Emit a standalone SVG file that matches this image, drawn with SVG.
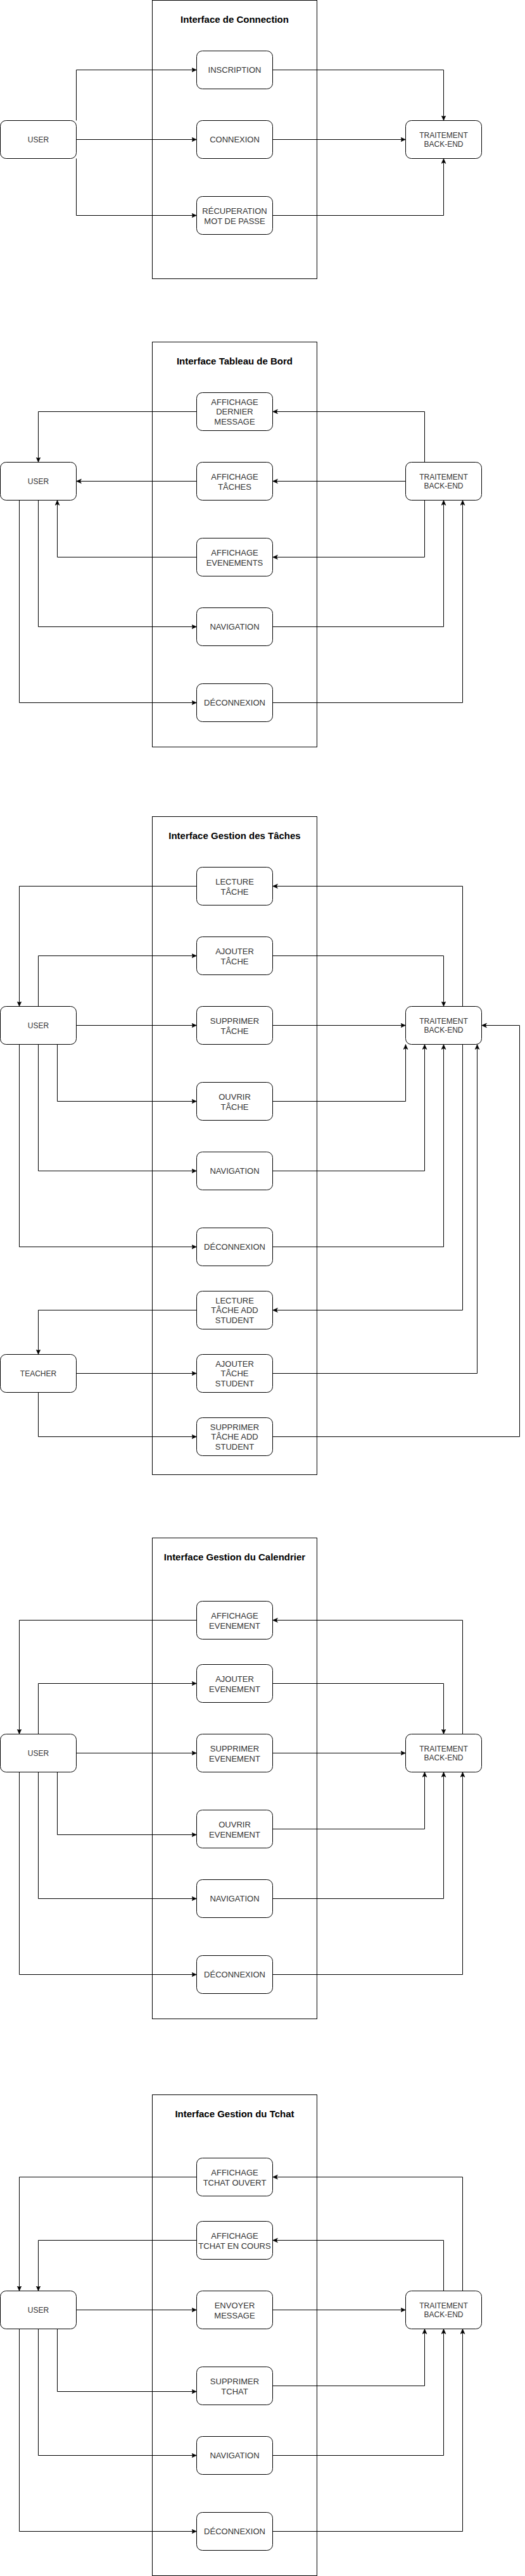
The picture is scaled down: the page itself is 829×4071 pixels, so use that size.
<svg xmlns="http://www.w3.org/2000/svg" width="829" height="4071" viewBox="0 0 829 4071">
<style>
.frame{fill:none;stroke:#000;stroke-width:1}
.node{fill:#fff;stroke:#000;stroke-width:1}
.c path{fill:none;stroke:#000;stroke-width:1;marker-end:url(#arr)}
.title{font-family:"Liberation Sans",Arial,Helvetica,sans-serif;font-size:15px;font-weight:bold;fill:#000;text-anchor:middle}
.t{font-family:"Liberation Sans",Arial,Helvetica,sans-serif;font-size:13px;fill:#333;text-anchor:middle}
.s{font-family:"Liberation Sans",Arial,Helvetica,sans-serif;font-size:12px;fill:#333;text-anchor:middle}
</style>
<defs>
<marker id="arr" markerUnits="userSpaceOnUse" markerWidth="10" markerHeight="10" refX="8" refY="4" orient="auto">
<path d="M0,0.5 L8,4 L0,7.5 L2,4 Z" fill="#000" stroke="#000" stroke-width="0.5"/>
</marker>
</defs>
<rect width="829" height="4071" fill="#fff"/>
<g transform="translate(0.5,0.5)">

<!-- containers -->
<g id="frame-connection"><rect class="frame" x="240" y="0" width="260" height="440"/><text class="title" x="370" y="35">Interface de Connection</text></g>
<g id="frame-tableau"><rect class="frame" x="240" y="540" width="260" height="640"/><text class="title" x="370" y="575">Interface Tableau de Bord</text></g>
<g id="frame-taches"><rect class="frame" x="240" y="1290" width="260" height="1040"/><text class="title" x="370" y="1325">Interface Gestion des Tâches</text></g>
<g id="frame-calendrier"><rect class="frame" x="240" y="2430" width="260" height="760"/><text class="title" x="370" y="2465">Interface Gestion du Calendrier</text></g>
<g id="frame-tchat"><rect class="frame" x="240" y="3310" width="260" height="760"/><text class="title" x="370" y="3345">Interface Gestion du Tchat</text></g>

<g id="connectors" class="c">
<!-- section 1 -->
<path d="M120,190 V110 H310"/>
<path d="M120,220 H310"/>
<path d="M120,250 V340 H310"/>
<path d="M430,110 H700 V190"/>
<path d="M430,220 H640"/>
<path d="M430,340 H700 V250"/>
<!-- section 2 -->
<path d="M310,650 H60 V730"/>
<path d="M670,730 V650 H430"/>
<path d="M310,760 H120"/>
<path d="M640,760 H430"/>
<path d="M310,880 H90 V790"/>
<path d="M670,790 V880 H430"/>
<path d="M60,790 V990 H310"/>
<path d="M430,990 H700 V790"/>
<path d="M30,790 V1110 H310"/>
<path d="M430,1110 H730 V790"/>
<!-- section 3 -->
<path d="M310,1400 H30 V1590"/>
<path d="M730,1590 V1400 H430"/>
<path d="M60,1590 V1510 H310"/>
<path d="M430,1510 H700 V1590"/>
<path d="M120,1620 H310"/>
<path d="M430,1620 H640"/>
<path d="M90,1650 V1740 H310"/>
<path d="M430,1740 H640 V1650"/>
<path d="M60,1650 V1850 H310"/>
<path d="M430,1850 H670 V1650"/>
<path d="M30,1650 V1970 H310"/>
<path d="M430,1970 H700 V1650"/>
<path d="M730,1650 V2070 H430"/>
<path d="M310,2070 H60 V2140"/>
<path d="M120,2170 H310"/>
<path d="M430,2170 H753 V1650"/>
<path d="M60,2200 V2270 H310"/>
<path d="M430,2270 H820 V1620 H760"/>
<!-- section 4 -->
<path d="M310,2560 H30 V2740"/>
<path d="M730,2740 V2560 H430"/>
<path d="M60,2740 V2660 H310"/>
<path d="M430,2660 H700 V2740"/>
<path d="M120,2770 H310"/>
<path d="M430,2770 H640"/>
<path d="M90,2800 V2899 H310"/>
<path d="M430,2890 H670 V2800"/>
<path d="M60,2800 V3000 H310"/>
<path d="M430,3000 H700 V2800"/>
<path d="M30,2800 V3120 H310"/>
<path d="M430,3120 H730 V2800"/>
<!-- section 5 -->
<path d="M310,3440 H30 V3620"/>
<path d="M730,3620 V3440 H430"/>
<path d="M310,3540 H60 V3620"/>
<path d="M700,3620 V3540 H430"/>
<path d="M120,3650 H310"/>
<path d="M430,3650 H640"/>
<path d="M90,3680 V3779 H310"/>
<path d="M430,3770 H670 V3680"/>
<path d="M60,3680 V3880 H310"/>
<path d="M430,3880 H700 V3680"/>
<path d="M30,3680 V4000 H310"/>
<path d="M430,4000 H730 V3680"/>
</g>

<!-- section 1 nodes -->
<g id="s1-user"><rect class="node" x="0" y="190" width="120" height="60" rx="9"/><text class="s" x="60" y="224">USER</text></g>
<g id="s1-inscription"><rect class="node" x="310" y="80" width="120" height="60" rx="9"/><text class="t" x="370" y="114.5">INSCRIPTION</text></g>
<g id="s1-connexion"><rect class="node" x="310" y="190" width="120" height="60" rx="9"/><text class="t" x="370" y="224.5">CONNEXION</text></g>
<g id="s1-recuperation"><rect class="node" x="310" y="310" width="120" height="60" rx="9"/><text class="t"><tspan x="370" y="337">RÉCUPERATION</tspan><tspan x="370" y="353">MOT DE PASSE</tspan></text></g>
<g id="s1-backend"><rect class="node" x="640" y="190" width="120" height="60" rx="9"/><text class="s"><tspan x="700" y="217">TRAITEMENT</tspan><tspan x="700" y="231.5">BACK-END</tspan></text></g>

<!-- section 2 nodes -->
<g id="s2-user"><rect class="node" x="0" y="730" width="120" height="60" rx="9"/><text class="s" x="60" y="764">USER</text></g>
<g id="s2-aff-message"><rect class="node" x="310" y="620" width="120" height="60" rx="9"/><text class="t"><tspan x="370" y="639">AFFICHAGE</tspan><tspan x="370" y="654.5">DERNIER</tspan><tspan x="370" y="670">MESSAGE</tspan></text></g>
<g id="s2-aff-taches"><rect class="node" x="310" y="730" width="120" height="60" rx="9"/><text class="t"><tspan x="370" y="757">AFFICHAGE</tspan><tspan x="370" y="773">TÂCHES</tspan></text></g>
<g id="s2-aff-evenements"><rect class="node" x="310" y="850" width="120" height="60" rx="9"/><text class="t"><tspan x="370" y="877">AFFICHAGE</tspan><tspan x="370" y="893">EVENEMENTS</tspan></text></g>
<g id="s2-navigation"><rect class="node" x="310" y="960" width="120" height="60" rx="9"/><text class="t" x="370" y="994.5">NAVIGATION</text></g>
<g id="s2-deconnexion"><rect class="node" x="310" y="1080" width="120" height="60" rx="9"/><text class="t" x="370" y="1114.5">DÉCONNEXION</text></g>
<g id="s2-backend"><rect class="node" x="640" y="730" width="120" height="60" rx="9"/><text class="s"><tspan x="700" y="757">TRAITEMENT</tspan><tspan x="700" y="771.5">BACK-END</tspan></text></g>

<!-- section 3 nodes -->
<g id="s3-lecture"><rect class="node" x="310" y="1370" width="120" height="60" rx="9"/><text class="t"><tspan x="370" y="1397">LECTURE</tspan><tspan x="370" y="1413">TÂCHE</tspan></text></g>
<g id="s3-ajouter"><rect class="node" x="310" y="1480" width="120" height="60" rx="9"/><text class="t"><tspan x="370" y="1507">AJOUTER</tspan><tspan x="370" y="1523">TÂCHE</tspan></text></g>
<g id="s3-user"><rect class="node" x="0" y="1590" width="120" height="60" rx="9"/><text class="s" x="60" y="1624">USER</text></g>
<g id="s3-supprimer"><rect class="node" x="310" y="1590" width="120" height="60" rx="9"/><text class="t"><tspan x="370" y="1617">SUPPRIMER</tspan><tspan x="370" y="1633">TÂCHE</tspan></text></g>
<g id="s3-backend"><rect class="node" x="640" y="1590" width="120" height="60" rx="9"/><text class="s"><tspan x="700" y="1617">TRAITEMENT</tspan><tspan x="700" y="1631.5">BACK-END</tspan></text></g>
<g id="s3-ouvrir"><rect class="node" x="310" y="1710" width="120" height="60" rx="9"/><text class="t"><tspan x="370" y="1737">OUVRIR</tspan><tspan x="370" y="1753">TÂCHE</tspan></text></g>
<g id="s3-navigation"><rect class="node" x="310" y="1820" width="120" height="60" rx="9"/><text class="t" x="370" y="1854.5">NAVIGATION</text></g>
<g id="s3-deconnexion"><rect class="node" x="310" y="1940" width="120" height="60" rx="9"/><text class="t" x="370" y="1974.5">DÉCONNEXION</text></g>
<g id="s3-lecture-add"><rect class="node" x="310" y="2040" width="120" height="60" rx="9"/><text class="t"><tspan x="370" y="2059">LECTURE</tspan><tspan x="370" y="2074.5">TÂCHE ADD</tspan><tspan x="370" y="2090">STUDENT</tspan></text></g>
<g id="s3-teacher"><rect class="node" x="0" y="2140" width="120" height="60" rx="9"/><text class="s" x="60" y="2174">TEACHER</text></g>
<g id="s3-ajouter-student"><rect class="node" x="310" y="2140" width="120" height="60" rx="9"/><text class="t"><tspan x="370" y="2159">AJOUTER</tspan><tspan x="370" y="2174.5">TÂCHE</tspan><tspan x="370" y="2190">STUDENT</tspan></text></g>
<g id="s3-supprimer-add"><rect class="node" x="310" y="2240" width="120" height="60" rx="9"/><text class="t"><tspan x="370" y="2259">SUPPRIMER</tspan><tspan x="370" y="2274.5">TÂCHE ADD</tspan><tspan x="370" y="2290">STUDENT</tspan></text></g>

<!-- section 4 nodes -->
<g id="s4-affichage"><rect class="node" x="310" y="2530" width="120" height="60" rx="9"/><text class="t"><tspan x="370" y="2557">AFFICHAGE</tspan><tspan x="370" y="2573">EVENEMENT</tspan></text></g>
<g id="s4-ajouter"><rect class="node" x="310" y="2630" width="120" height="60" rx="9"/><text class="t"><tspan x="370" y="2657">AJOUTER</tspan><tspan x="370" y="2673">EVENEMENT</tspan></text></g>
<g id="s4-user"><rect class="node" x="0" y="2740" width="120" height="60" rx="9"/><text class="s" x="60" y="2774">USER</text></g>
<g id="s4-supprimer"><rect class="node" x="310" y="2740" width="120" height="60" rx="9"/><text class="t"><tspan x="370" y="2767">SUPPRIMER</tspan><tspan x="370" y="2783">EVENEMENT</tspan></text></g>
<g id="s4-backend"><rect class="node" x="640" y="2740" width="120" height="60" rx="9"/><text class="s"><tspan x="700" y="2767">TRAITEMENT</tspan><tspan x="700" y="2781.5">BACK-END</tspan></text></g>
<g id="s4-ouvrir"><rect class="node" x="310" y="2860" width="120" height="60" rx="9"/><text class="t"><tspan x="370" y="2887">OUVRIR</tspan><tspan x="370" y="2903">EVENEMENT</tspan></text></g>
<g id="s4-navigation"><rect class="node" x="310" y="2970" width="120" height="60" rx="9"/><text class="t" x="370" y="3004.5">NAVIGATION</text></g>
<g id="s4-deconnexion"><rect class="node" x="310" y="3090" width="120" height="60" rx="9"/><text class="t" x="370" y="3124.5">DÉCONNEXION</text></g>

<!-- section 5 nodes -->
<g id="s5-aff-ouvert"><rect class="node" x="310" y="3410" width="120" height="60" rx="9"/><text class="t"><tspan x="370" y="3437">AFFICHAGE</tspan><tspan x="370" y="3453">TCHAT OUVERT</tspan></text></g>
<g id="s5-aff-cours"><rect class="node" x="310" y="3510" width="120" height="60" rx="9"/><text class="t"><tspan x="370" y="3537">AFFICHAGE</tspan><tspan x="370" y="3553">TCHAT EN COURS</tspan></text></g>
<g id="s5-user"><rect class="node" x="0" y="3620" width="120" height="60" rx="9"/><text class="s" x="60" y="3654">USER</text></g>
<g id="s5-envoyer"><rect class="node" x="310" y="3620" width="120" height="60" rx="9"/><text class="t"><tspan x="370" y="3647">ENVOYER</tspan><tspan x="370" y="3663">MESSAGE</tspan></text></g>
<g id="s5-backend"><rect class="node" x="640" y="3620" width="120" height="60" rx="9"/><text class="s"><tspan x="700" y="3647">TRAITEMENT</tspan><tspan x="700" y="3661.5">BACK-END</tspan></text></g>
<g id="s5-supprimer"><rect class="node" x="310" y="3740" width="120" height="60" rx="9"/><text class="t"><tspan x="370" y="3767">SUPPRIMER</tspan><tspan x="370" y="3783">TCHAT</tspan></text></g>
<g id="s5-navigation"><rect class="node" x="310" y="3850" width="120" height="60" rx="9"/><text class="t" x="370" y="3884.5">NAVIGATION</text></g>
<g id="s5-deconnexion"><rect class="node" x="310" y="3970" width="120" height="60" rx="9"/><text class="t" x="370" y="4004.5">DÉCONNEXION</text></g>
</g>
</svg>
